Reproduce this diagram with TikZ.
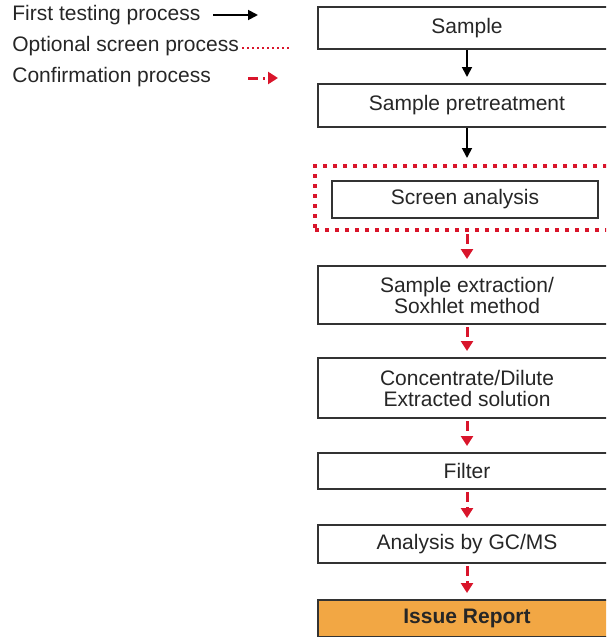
\documentclass[tikz,border=0pt]{standalone}
\usepackage{fontspec}
\setmainfont{Liberation Sans}
\usetikzlibrary{arrows.meta, positioning}
\definecolor{confred}{HTML}{D9152B}
\definecolor{reportorange}{HTML}{F2A744}
\definecolor{txtgray}{HTML}{262626}

\begin{document}
\begin{tikzpicture}[x=0.5pt, y=-0.5pt,
	every node/.style={font=\fontsize{10.5}{10.5}\selectfont, text=txtgray},
	procbox/.style={draw=black!80, line width=1pt, minimum width=149pt, inner sep=0pt, align=center},
	legendtext/.style={anchor=west, inner sep=0pt},
	firstarrow/.style={-{Triangle[length=5pt, width=5pt]}, line width=0.9pt, shorten >=3pt},
	confarrow/.style={confred, line width=1.5pt, dash pattern=on 5pt off 2.5pt on 1pt off 2.5pt, -{Triangle[length=5pt, width=6pt]}, shorten <=1pt, shorten >=3pt},
	screenframe/.style={draw=confred, line width=2pt, dash pattern=on 2pt off 3pt, minimum width=152pt, minimum height=32pt, inner sep=0pt}]

	\useasboundingbox (0,0) rectangle (606,637);
	\clip (0,0) rectangle (606,637);

	% legend
	\node[legendtext] (firstlbl) at (12,15) {First testing process};
	\node[legendtext] (optlbl) at (12,46) {Optional screen process};
	\node[legendtext] (conflbl) at (12,77) {Confirmation process};
	\coordinate (firststart) at (213,15);
	\coordinate (firstend) at (258,15);
	\coordinate (optstart) at (242,48);
	\coordinate (optend) at (290,48);
	\coordinate (confstart) at (248,78);
	\coordinate (confend) at (278,78);
	\draw[firstarrow, shorten >=0pt] (firststart) -- (firstend);
	\draw[confred, line width=1pt, dash pattern=on 1pt off 1.5pt] (optstart) -- (optend);
	\draw[confarrow, shorten <=0pt, shorten >=0pt] (confstart) -- (confend);

	% process boxes
	\node[procbox, minimum height=21pt] (sample) at (467,28) {Sample};
	\node[procbox, minimum height=21.5pt] (pretreat) at (467,105.5) {Sample pretreatment};
	\node[screenframe] (screenarea) at (467,198) {};
	\node[procbox, minimum width=133pt, minimum height=18.5pt] (screen) at (465,199.5) {Screen analysis};
	\node[procbox, minimum height=29pt] (extract) at (467,295) {Sample extraction/\\Soxhlet method};
	\node[procbox, minimum height=30pt] (concen) at (467,388) {Concentrate/Dilute\\Extracted solution};
	\node[procbox, minimum height=18pt] (filter) at (467,471) {Filter};
	\node[procbox, minimum height=19pt] (gcms) at (467,544) {Analysis by GC/MS};
	\node[procbox, fill=reportorange, minimum height=18.5pt, font=\fontsize{10.5}{10.5}\selectfont\bfseries] (report) at (467,618.5) {Issue Report};

	% flow
	\draw[firstarrow] (sample) -- (pretreat);
	\draw[firstarrow] (pretreat) -- (screenarea);
	\draw[confarrow] (screenarea) -- (extract);
	\draw[confarrow] (extract) -- (concen);
	\draw[confarrow] (concen) -- (filter);
	\draw[confarrow] (filter) -- (gcms);
	\draw[confarrow] (gcms) -- (report);
\end{tikzpicture}
\end{document}
